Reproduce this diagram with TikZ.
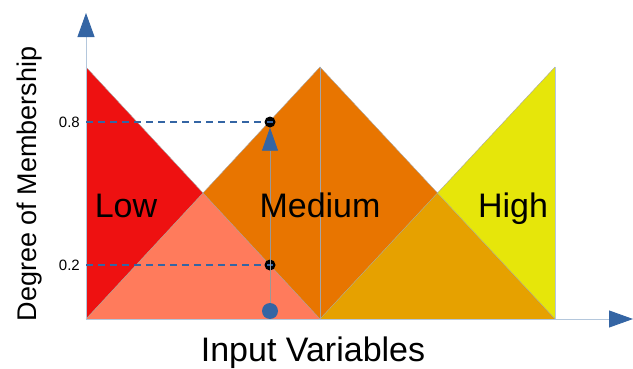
\documentclass[tikz,border=0pt]{standalone}
\usepackage{fontspec}
\setmainfont{Liberation Sans}
\usetikzlibrary{arrows.meta}

\definecolor{lowred}{HTML}{EE1111}
\definecolor{lowmed}{HTML}{FF7B5C}
\definecolor{medorange}{HTML}{E87500}
\definecolor{medhigh}{HTML}{E6A100}
\definecolor{highyellow}{HTML}{E6E60A}
\definecolor{arrowblue}{HTML}{3465A4}
\definecolor{axisgray}{HTML}{B4C7DC}

\tikzset{
  axis/.style={draw=axisgray, line width=0.9pt, -{Triangle[length=24pt, width=17pt, color=arrowblue]}},
  edge/.style={draw=gray!70, line width=0.4pt},
  level/.style={draw=arrowblue, line width=2.2pt, dash pattern=on 7pt off 5pt},
  guide/.style={draw=gray!80, line width=0.7pt, -{Triangle[length=23pt, width=16pt, color=arrowblue]}},
  dot/.style={circle, fill=black, minimum size=11pt, inner sep=0pt,
    path picture={\draw[arrowblue, line width=1.4pt] ([xshift=-3pt]path picture bounding box.center) -- ([xshift=3pt]path picture bounding box.center);}},
  inval/.style={circle, fill=arrowblue, minimum size=16pt, inner sep=0pt},
  setlab/.style={font=\fontsize{34}{34}\selectfont, anchor=base, inner sep=0pt},
  ticklab/.style={font=\fontsize{15}{15}\selectfont, anchor=east, inner sep=0pt}
}

\begin{document}
\begin{tikzpicture}[x=1pt, y=1pt]
  \useasboundingbox (0,0) rectangle (633,368);

  % Corners of the sets
  \coordinate (O) at (86,49);        % origin
  \coordinate (ltop) at (86,301);    % Low top
  \coordinate (mpeak) at (320,301);  % Medium peak
  \coordinate (mid) at (320,49);     % Medium foot
  \coordinate (htop) at (555,301);   % High top
  \coordinate (hend) at (555,49);    % High foot
  \coordinate (xl) at (203,175);     % Low/Medium crossing
  \coordinate (xh) at (437,175);     % Medium/High crossing

  % Sets
  \fill[lowred] (O) -- (ltop) -- (mid) -- cycle;
  \fill[medorange] (O) -- (mpeak) -- (hend) -- cycle;
  \fill[highyellow] (mid) -- (htop) -- (hend) -- cycle;
  \fill[lowmed] (O) -- (xl) -- (mid) -- cycle;
  \fill[medhigh] (mid) -- (xh) -- (hend) -- cycle;
  \draw[edge] (O) -- (mpeak) -- (hend);
  \draw[edge] (ltop) -- (mid) -- (htop);
  \draw[edge] (mpeak) -- (mid);
  \draw[edge, draw=axisgray] (htop) -- (hend);

  % Axes
  \coordinate (ytip) at (86,355);
  \coordinate (xtip) at (633,49);
  \draw[axis] (O) -- (ytip);
  \draw[axis] (O) -- (xtip);

  % Input and its memberships
  \node[inval] (x0) at (270,57) {};
  \node[dot] (d8) at (270,246) {};
  \node[dot] (d2) at (270,103) {};
  \coordinate (y8) at (86,246);
  \coordinate (y2) at (86,103);
  \draw[guide] (x0) -- (d8);
  \draw[level] (y8) -- (d8);
  \draw[level] (y2) -- (d2);
  \node[ticklab] (t8) at ([xshift=-6pt]y8) {0.8};
  \node[ticklab] (t2) at ([xshift=-6pt]y2) {0.2};

  % Labels
  \node[setlab] (low) at (126,151) {Low};
  \node[setlab] (medium) at (320,151) {Medium};
  \node[setlab] (high) at (513,151) {High};
  \node[setlab] (xlab) at (313,7) {Input Variables};
  \node[font=\fontsize{27}{27}\selectfont, rotate=90, anchor=base, inner sep=0pt] (ylab) at (36,184) {Degree of Membership};
\end{tikzpicture}
\end{document}
